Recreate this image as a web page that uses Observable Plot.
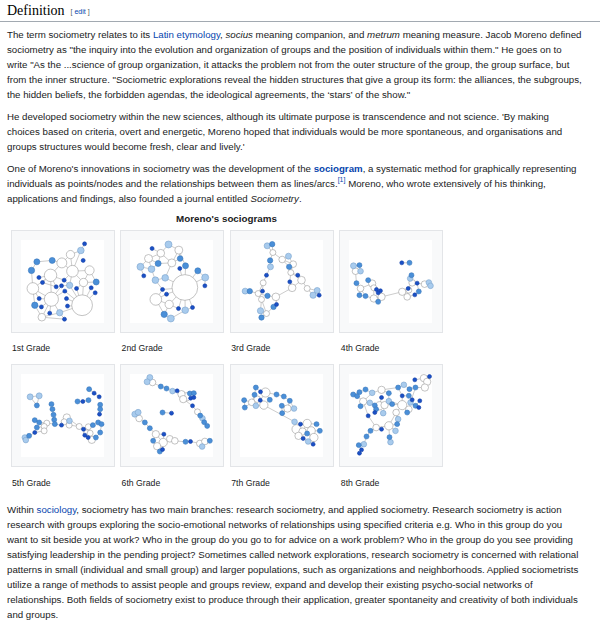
<!DOCTYPE html>
<html><head><meta charset="utf-8">
<script src="https://cdn.jsdelivr.net/npm/d3@7"></script>
<script src="https://cdn.jsdelivr.net/npm/@observablehq/plot@0.6"></script>
<style>
html,body{margin:0;padding:0;background:#fff}
body{width:600px;height:634px;position:relative;overflow:hidden;font-family:"Liberation Sans",Arial,sans-serif;color:#202122}
.abs{position:absolute}
h2{position:absolute;left:0;top:0;width:600px;margin:0;font-family:"Liberation Serif","Times New Roman",serif;font-weight:normal;font-size:14px;line-height:21px;height:22px;border-bottom:1px solid #a2a9b1;padding-left:7px;box-sizing:border-box;color:#000}
h2 .edit{font-family:"Liberation Sans",Arial,sans-serif;font-size:7px;color:#54595d;margin-left:6px;vertical-align:1px}
.para{position:absolute;left:7px}
.para div{white-space:nowrap;height:15px;line-height:15px;font-size:9.7px}
a{color:#0645ad;text-decoration:none}
sup{font-size:7px;line-height:0;position:relative;top:-1px}
.title{position:absolute;left:10px;width:433px;text-align:center;font-weight:bold;font-size:9.8px;line-height:14px;top:212px;color:#202122}
.box{position:absolute;width:102px;height:101px;background:#f8f9fa;border:1px solid #e3e5e8}
.box .img{position:absolute;left:9px;top:9px;width:83px;height:83px;background:#fff}
.box svg{display:block}
.cap{position:absolute;font-size:8.7px;line-height:14px;color:#202122;white-space:nowrap}
</style></head>
<body>
<h2>Definition<span class="edit">[ <a>edit</a> ]</span></h2>
<div class="para" style="top:27px">
<div>The term sociometry relates to its <a>Latin etymology</a>, <i>socius</i> meaning companion, and <i>metrum</i> meaning measure. Jacob Moreno defined</div>
<div>sociometry as "the inquiry into the evolution and organization of groups and the position of individuals within them." He goes on to</div>
<div>write "As the ...science of group organization, it attacks the problem not from the outer structure of the group, the group surface, but</div>
<div>from the inner structure. "Sociometric explorations reveal the hidden structures that give a group its form: the alliances, the subgroups,</div>
<div>the hidden beliefs, the forbidden agendas, the ideological agreements, the ‘stars’ of the show."</div>
</div>
<div class="para" style="top:109px">
<div>He developed sociometry within the new sciences, although its ultimate purpose is transcendence and not science. 'By making</div>
<div>choices based on criteria, overt and energetic, Moreno hoped that individuals would be more spontaneous, and organisations and</div>
<div>groups structures would become fresh, clear and lively.'</div>
</div>
<div class="para" style="top:161px">
<div>One of Moreno's innovations in sociometry was the development of the <b><a>sociogram</a></b>, a systematic method for graphically representing</div>
<div>individuals as points/nodes and the relationships between them as lines/arcs.<sup><a>[1]</a></sup> Moreno, who wrote extensively of his thinking,</div>
<div>applications and findings, also founded a journal entitled <i>Sociometry</i>.</div>
</div>
<div class="title">Moreno's sociograms</div>
<div id="gallery"></div>
<div class="para" style="top:502px">
<div>Within <a>sociology</a>, sociometry has two main branches: research sociometry, and applied sociometry. Research sociometry is action</div>
<div>research with groups exploring the socio-emotional networks of relationships using specified criteria e.g. Who in this group do you</div>
<div>want to sit beside you at work? Who in the group do you go to for advice on a work problem? Who in the group do you see providing</div>
<div>satisfying leadership in the pending project? Sometimes called network explorations, research sociometry is concerned with relational</div>
<div>patterns in small (individual and small group) and larger populations, such as organizations and neighborhoods. Applied sociometrists</div>
<div>utilize a range of methods to assist people and groups review, expand and develop their existing psycho-social networks of</div>
<div>relationships. Both fields of sociometry exist to produce through their application, greater spontaneity and creativity of both individuals</div>
<div>and groups.</div>
</div>
<script>
// Node tuples: [x, y, group, choices]  (group 0 = star/white, 1 = light, 2 = medium, 3 = dark)
const gradeLabels = ["1st Grade","2nd Grade","3rd Grade","4th Grade","5th Grade","6th Grade","7th Grade","8th Grade"];

const g1Nodes = [[76,4,3,2.4],[71.5,12,1,4],[59,17,0,5],[48.6,27,0,6],[37,24,2,3.6],[18.5,25.7,2,3.6],[12,36,2,3.8],[74.3,24,3,2.4],[61.4,37,0,7],[82,36,0,5.5],[35,42,0,7.5],[21,44.6,3,2.4],[25.3,50.6,3,2.4],[51.4,47.8,3,2.4],[58,54,1,3.8],[74.7,50.6,0,5],[90,50,2,3.6],[13.7,57.8,0,7],[41.8,55.8,3,2.4],[48.2,54.6,3,2.4],[52.2,61,3,2.4],[66.3,57.8,3,2.4],[84,57,3,2.4],[88.8,63,3,2.4],[36,70.7,0,8.5],[21.3,70,3,2.4],[54.2,70,3,2.4],[73,78,0,12.5],[16,78,2,3.8],[24,80,3,2.4],[55.4,79,3,2.4],[46,87,1,3.8],[34,87.5,3,2.4],[24.5,92.4,0,4.6],[51.8,94.8,3,2.4]];
const g1Links = [[0,1],[1,2],[1,8],[2,3],[2,8],[3,4],[4,5],[5,6],[6,17],[3,10],[3,8],[8,9],[8,15],[8,14],[9,15],[9,16],[15,16],[15,21],[10,11],[10,12],[10,17],[10,24],[10,13],[10,18],[17,24],[17,25],[17,28],[24,25],[24,19],[24,20],[24,31],[24,32],[24,29],[24,33],[28,29],[33,34],[33,31],[31,27],[27,30],[27,26],[27,21],[27,22],[27,23],[27,15],[27,14],[14,13],[14,19],[8,13],[20,27],[31,34],[28,33],[12,18]];

const g2Nodes = [[26,9.6,3,2.4],[45.8,4.8,1,4.2],[58.2,11.6,0,4.8],[36.5,15.3,0,4.6],[21.7,21.7,0,4.8],[12,31.7,1,4.2],[25.3,34.5,1,4],[33.3,27.7,2,3.6],[16,42.6,3,2.4],[30,47.8,1,4],[49.8,27,0,4.8],[59.8,21.7,2,3.4],[66.3,30.5,2,3.6],[59.4,33.7,3,2.4],[41.8,45,1,4],[65.5,56.6,0,15.5],[81.1,36.5,2,3.6],[90,44.6,1,4.2],[89.6,54.6,3,2.4],[38.6,59,3,2.4],[43.4,64.7,3,2.4],[30.5,71,0,7],[46.6,77,0,5],[57.8,82,3,2.4],[65.9,84,1,4],[74.7,80.7,3,2.4],[40.6,89,2,3.8],[48.6,94,1,4.2]];
const g2Links = [[1,2],[1,3],[0,3],[3,4],[4,5],[4,6],[5,6],[6,7],[7,3],[7,10],[6,9],[5,8],[9,14],[14,10],[10,2],[10,11],[11,2],[12,15],[13,15],[14,15],[2,12],[15,16],[16,17],[17,18],[15,17],[19,15],[20,15],[19,21],[20,21],[21,22],[22,15],[22,23],[23,15],[24,15],[25,15],[24,25],[22,26],[26,27],[27,24],[21,26],[9,19],[3,10],[4,7]];

const g3Nodes = [[32.1,6.4,1,3.6],[38.2,4.4,2,3.2],[39,14.5,0,3.6],[35.7,24,2,3.2],[36.1,31.7,1,3.6],[50.2,22.9,0,4],[57.8,18.9,1,3.6],[63.5,28.5,0,4],[31.3,41.8,3,2.4],[60.6,38.6,0,3.6],[69,41.8,3,2.4],[58.6,31.7,2,3.2],[59.4,49.8,3,2.4],[73.5,47.8,0,4.6],[62.2,57,0,4.6],[27.3,51,0,3.6],[26.5,61,3,2.4],[11.2,61,2,3.2],[5.6,61,1,3.6],[21.3,63.9,0,3.6],[42.6,67.9,0,4.6],[32.5,66.7,2,3.2],[43.4,77,3,2.4],[39.8,80,2,3.2],[25.3,71,0,3.6],[24.1,84.7,1,3.8],[31.3,88,0,3.6],[25.3,92.8,2,3.2],[80.3,57.8,0,3.6],[92.4,60.2,1,3.6],[87.5,65.9,1,3.8],[94.8,65.9,3,2.4]];
const g3Links = [[0,1],[0,2],[1,2],[2,3],[2,5],[3,4],[4,8],[5,6],[5,7],[6,7],[5,11],[7,9],[7,11],[9,10],[9,12],[10,13],[11,9],[12,14],[13,14],[9,13],[8,15],[15,16],[15,19],[16,19],[17,18],[17,19],[19,21],[19,24],[21,20],[20,14],[20,22],[22,23],[23,26],[24,25],[25,26],[26,27],[24,26],[13,28],[28,29],[28,30],[29,30],[30,31],[29,31]];

const g4Nodes = [[63,26.9,3,2.4],[72.3,26.9,2,3],[4.8,30.5,1,3.6],[12,29.7,2,3],[7.2,37,0,4],[13.3,37,1,3.4],[8.4,51.4,2,3],[13.3,57.8,0,4],[22.5,47.8,2,3],[27.3,51.8,0,4.4],[29.3,57,0,3.6],[32.5,59,3,2.4],[37.3,60.6,3,2.4],[34.5,63,3,2.4],[12,65.9,2,3],[19.3,67,2,3],[29.3,69.9,0,4.4],[38.6,67.9,0,4.4],[34.5,73.9,2,3],[63.5,61.8,0,4.4],[69.5,67.9,0,4],[70.7,57.8,3,2.4],[73.1,45.8,1,3.4],[74.7,41.8,2,3],[75.5,51,0,4],[81.5,51.4,3,2.4],[83.5,61.4,2,3],[78.7,65.5,3,2.4],[90.4,52.6,0,4],[95.6,50.6,1,3.4],[97.6,54.6,1,3.4],[71.5,59.8,0,3.6]];
const g4Links = [[0,1],[2,3],[2,4],[3,5],[4,5],[4,6],[6,7],[7,9],[8,9],[9,10],[10,11],[10,12],[11,13],[7,14],[14,15],[15,16],[16,17],[17,18],[16,18],[17,12],[17,19],[19,20],[19,21],[20,27],[21,24],[22,23],[22,24],[24,25],[24,28],[25,26],[26,27],[28,29],[28,30],[29,30],[20,31],[31,21],[16,10],[7,15]];

const g5Nodes = [[10.4,26.9,1,3.6],[21.3,25.7,1,3.6],[18.5,37.3,2,3],[81.5,17.7,2,3],[87.5,22.5,3,2.4],[93.6,26.9,3,2.4],[67.5,32.5,2,3],[73.9,32.5,3,2.4],[80.7,30.9,2,3],[94.8,36.5,2,3],[94.8,41.8,2,3],[94,47.8,3,2.4],[36.1,35.7,2,3],[37.3,41.8,2,3],[38.6,48.6,2,3],[39.4,54.6,2,3],[54.6,51.8,0,4.4],[57.8,55.8,1,3.4],[51.4,57,0,3.6],[40.2,59.8,2,3],[48.2,61,3,2.4],[57.4,61,0,3.6],[30.5,58.6,0,3.6],[16,55,2,3],[21.3,57.8,2,3],[27.3,62.6,0,3.6],[18.5,63.9,2,3],[27.3,67.9,0,3.6],[16,69.9,3,2.4],[9.2,73.9,2,3],[4,75.9,1,3.4],[5.2,79,1,3.4],[69.5,62.6,0,3.6],[80.5,63,0,3.6],[86,61,2,3],[92.4,57.8,2,3],[96.4,59.8,2,3],[74.7,65.9,3,2.4],[78.7,70.7,0,4],[76.3,73.1,3,2.4],[84.7,78.7,0,4.4],[89.6,75.9,2,3],[94.8,69.9,2,3],[80.3,75.9,3,2.4],[82.7,70.7,0,3.6]];
const g5Links = [[0,1],[1,2],[2,0],[3,4],[4,5],[6,7],[7,8],[9,10],[10,11],[12,13],[13,14],[14,15],[15,19],[16,17],[16,18],[17,21],[18,21],[18,20],[19,20],[19,22],[16,32],[21,32],[32,37],[37,38],[38,44],[44,40],[40,41],[41,42],[42,36],[36,35],[35,34],[34,33],[33,37],[38,39],[39,43],[43,40],[22,24],[23,24],[24,25],[25,26],[25,27],[27,28],[28,29],[29,30],[30,31],[29,31],[22,25]];

const g6Nodes = [[23.3,3.6,1,3.6],[20,8.8,1,3.6],[26.5,9.6,0,4],[36.5,14.5,2,3],[43.4,16.9,2,3],[50.6,20,1,3.4],[56.2,19.7,3,2.4],[61.4,23.7,0,4.4],[67.5,26.9,0,5],[63.5,29.7,0,4.4],[71.5,22.9,2,3],[76.3,22.5,2,3],[72.5,28.5,3,2.4],[76.3,27.7,3,2.4],[74.7,37.7,3,2.4],[80.7,45,0,3.6],[84,49.5,2,3],[86.7,52.8,1,3.4],[88.8,57.5,2,3],[92.4,62,2,3],[38.6,45.8,2,3],[49.4,46.6,3,2.4],[5.2,47.8,1,3.6],[9.2,45.6,1,3.6],[10.4,53,0,4],[17.3,57.8,2,3],[23.3,64.7,2,3],[30.5,71.9,0,4.4],[40.2,71.9,3,2.4],[27.3,79.9,2,3],[39.4,81.9,0,5],[32.1,86.4,0,4.4],[35.3,92.8,2,3],[38.6,90.4,3,2.4],[47.4,77.5,0,4],[53.4,79.9,0,4],[66.3,81.1,2,3],[72.3,80.7,3,2.4],[83.5,83.1,0,4],[89.6,80.7,0,4],[95.6,79.9,2,3],[86.3,86.8,1,3.4]];
const g6Links = [[0,1],[0,2],[1,2],[2,3],[3,4],[4,5],[5,6],[6,7],[7,8],[7,9],[8,9],[8,10],[10,11],[8,12],[12,13],[9,14],[14,15],[15,16],[16,17],[17,18],[18,19],[20,21],[22,23],[22,24],[23,24],[24,25],[25,26],[26,27],[27,28],[27,29],[27,30],[28,30],[30,31],[29,31],[31,32],[31,33],[30,33],[30,34],[34,35],[35,36],[36,37],[37,38],[38,39],[39,40],[38,41],[39,41]];

const g7Nodes = [[18.5,15.7,2,3],[30.1,21.7,0,5.5],[24.1,20.9,3,2.4],[16.9,24.5,2,3],[20,29.7,0,4],[23.8,31,3,2.4],[35.3,30.5,2,3],[28.1,36.9,0,5],[18.5,37.7,1,3.4],[13.5,33.5,0,4],[4.4,30.9,2,3],[5.2,39.8,2,3],[43.4,24.1,2,3],[52.2,26.5,2,3],[59.4,31.7,2,3],[49.8,37.7,2,3],[56.6,41,0,4.4],[64.5,41,1,3.4],[50.2,46.6,2,3],[65.1,57,1,3.4],[72.3,59.8,3,2.4],[80.3,59,0,5],[91.6,59.8,2,3],[67.5,65.9,0,5.5],[74.7,68.7,0,4.4],[85.1,67.9,0,5],[95.6,67.9,2,3],[80.3,71.1,2,3],[88.4,75.9,0,5],[75.5,77.1,3,2.4],[81.5,80.7,1,3.4],[87.5,84,3,2.4],[69.9,73.9,0,4.4]];
const g7Links = [[0,2],[2,1],[0,3],[3,4],[4,5],[5,1],[1,6],[6,7],[7,5],[7,8],[8,9],[9,3],[9,10],[9,11],[10,11],[1,12],[12,13],[13,14],[14,16],[15,16],[16,17],[15,18],[18,16],[7,19],[19,20],[19,23],[20,21],[21,22],[21,25],[23,24],[24,21],[24,27],[25,26],[25,28],[27,28],[27,29],[29,30],[30,31],[28,31],[23,32],[32,29],[32,24],[17,14]];

const g8Nodes = [[78.7,6.4,3,2.4],[89.6,4.4,0,4.4],[96.4,2.4,3,2.4],[93.6,8.8,0,4.4],[90.8,15.7,0,4.4],[79.5,15.7,2,3],[72.3,17.7,2,3],[65.5,12.4,1,3.4],[58.6,15.7,2,3],[38.6,18.5,0,4.4],[47.4,22.5,2,3],[27.3,22.1,1,3.4],[19.3,18.1,2,3],[12,21.3,2,3],[4.4,24.1,2,3],[9.2,26.1,2,3],[16.5,32.5,0,4.4],[13.3,38.2,2,3],[24.5,34.1,1,3.4],[30.5,37.3,2,3],[38.6,27.7,3,2.4],[36.1,37.7,0,5],[42.2,36.9,0,4.4],[32.1,41.8,2,3],[30.5,45.8,3,2.4],[40.6,46.6,1,3.4],[47.4,32.1,1,3.4],[63.5,36.9,0,5.5],[51.4,35.7,2,3],[56.2,45.8,0,4],[58.6,53.8,1,3.4],[63.5,25.7,3,2.4],[71.5,25.7,2,3],[75.5,30.5,3,2.4],[73.5,33.7,1,3.4],[79.5,37.7,2,3],[84.7,31.7,3,2.4],[83.5,39.8,3,2.4],[71.5,41.8,0,4],[69.5,45.8,2,3],[22.5,49.8,3,2.4],[47.4,61.8,0,5],[32.1,63.9,0,4],[38.6,65.9,3,2.4],[57.4,59.8,2,3],[55.4,67.9,1,3.4],[25.3,67.9,2,3],[20.5,74.7,2,3],[17.3,84,1,3.4],[11.2,85.1,2,3],[14.5,90.8,3,2.4],[12,94.8,3,2.4],[48.2,75.5,2,3],[49.4,81.5,1,3.4]];
const g8Links = [[0,1],[1,2],[1,3],[2,3],[3,4],[4,5],[5,6],[6,7],[7,8],[8,9],[9,10],[9,11],[11,12],[12,13],[13,14],[14,15],[15,16],[11,16],[16,17],[16,18],[18,19],[19,21],[20,21],[21,22],[21,23],[23,24],[22,25],[10,26],[26,27],[27,28],[27,29],[27,38],[29,30],[29,44],[31,32],[32,33],[33,34],[34,35],[35,36],[35,37],[34,38],[38,39],[27,31],[8,31],[16,40],[40,42],[42,41],[41,44],[41,45],[42,43],[42,46],[46,47],[47,48],[48,49],[49,50],[50,51],[41,52],[52,53],[29,41],[22,28],[5,34]];

const gradeNodes = [g1Nodes,g2Nodes,g3Nodes,g4Nodes,g5Nodes,g6Nodes,g7Nodes,g8Nodes];
const gradeLinks = [g1Links,g2Links,g3Links,g4Links,g5Links,g6Links,g7Links,g8Links];

const groupFill = ["#ffffff","#a8cbed","#4a8fd8","#1a50c6"];
const groupStroke = ["#9a9a9a","#7aa3cc","#3977bb","#1541a6"];

function sociogram(nodeList, linkList){
  const pts = nodeList.map(([x,y,g,c]) => ({x,y,g,c}));
  const edges = linkList.map(([a,b]) => ({x1:pts[a].x,y1:pts[a].y,x2:pts[b].x,y2:pts[b].y}));
  const marks = [Plot.link(edges,{x1:"x1",y1:"y1",x2:"x2",y2:"y2",stroke:"#a9a9a9",strokeWidth:0.6})];
  [0,1,2,3].forEach(g => {
    marks.push(Plot.dot(pts.filter(d => d.g === g),{x:"x",y:"y",r:"c",fill:groupFill[g],stroke:groupStroke[g],strokeWidth:0.6}));
  });
  return Plot.plot({
    width:83,height:83,margin:0,
    x:{domain:[0,100],axis:null},
    y:{domain:[0,100],axis:null,reverse:true},
    r:{type:"linear",domain:[0,100],range:[0,83]},
    style:{background:"white",overflow:"visible"},
    marks
  });
}

const gallery = document.getElementById("gallery");
gradeLabels.forEach((label,i) => {
  const col = i % 4, row = Math.floor(i/4);
  const left = 10.5 + col*109.6;
  const top = row === 0 ? 230 : 364.3;
  const box = document.createElement("div");
  box.className = "box";
  box.style.left = left + "px";
  box.style.top = top + "px";
  const img = document.createElement("div");
  img.className = "img";
  img.appendChild(sociogram(gradeNodes[i], gradeLinks[i]));
  box.appendChild(img);
  gallery.appendChild(box);
  const cap = document.createElement("div");
  cap.className = "cap";
  cap.style.left = (left + 1.5) + "px";
  cap.style.top = (top + 111.3) + "px";
  cap.textContent = label;
  gallery.appendChild(cap);
});
</script>
</body></html>
